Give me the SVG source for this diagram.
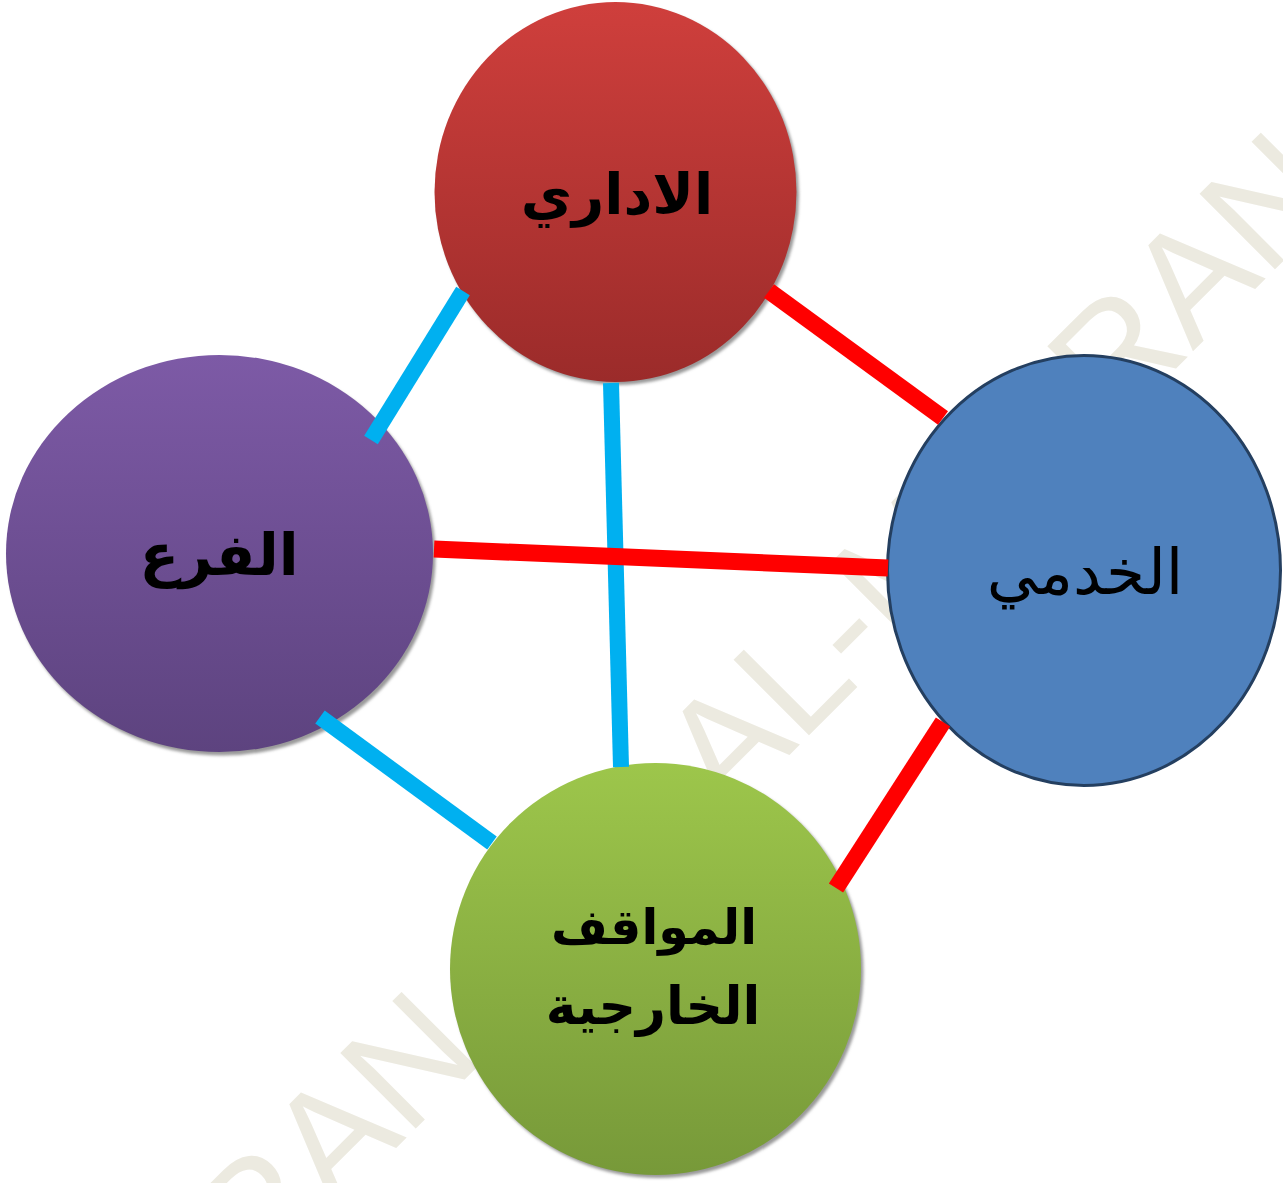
<svg xmlns="http://www.w3.org/2000/svg" width="1283" height="1183" viewBox="0 0 1283 1183">
  <defs>
    <linearGradient id="gRed" x1="0" y1="0" x2="0" y2="1">
      <stop offset="0" stop-color="#CF3F3C"/>
      <stop offset="1" stop-color="#9B2B2A"/>
    </linearGradient>
    <linearGradient id="gPurple" x1="0" y1="0" x2="0" y2="1">
      <stop offset="0" stop-color="#7D5AA6"/>
      <stop offset="1" stop-color="#5D437F"/>
    </linearGradient>
    <linearGradient id="gGreen" x1="0" y1="0" x2="0" y2="1">
      <stop offset="0" stop-color="#9DC64B"/>
      <stop offset="1" stop-color="#779939"/>
    </linearGradient>
    <filter id="soft" x="-10%" y="-10%" width="120%" height="120%">
      <feGaussianBlur stdDeviation="1.5"/>
    </filter>
  </defs>
  <style>
    .wm { font-family: "Liberation Sans", Arial, sans-serif; font-size: 155px; fill: #ECEAE0; }
    .shadow { fill: #9A9A9A; filter: url(#soft); }
    .lbl { font-family: "DejaVu Sans", sans-serif; fill: #000; text-anchor: middle; direction: rtl; }
    .b { font-weight: bold; }
    .cyan { stroke: #00B0F0; stroke-width: 16; stroke-linecap: butt; fill: none; }
    .red { stroke: #FF0000; stroke-width: 17; stroke-linecap: butt; fill: none; }
  </style>

  <rect width="1283" height="1183" fill="#FFFFFF"/>

  <!-- background watermark, running diagonally behind the nodes -->
  <g id="watermark" transform="rotate(-45)">
    <text class="wm" y="1092"><tspan x="-732">RAN</tspan><tspan x="-64">AL-M</tspan><tspan x="483">RAN</tspan></text>
  </g>

  <!-- nodes -->
  <g id="node-idari">
    <ellipse class="shadow" cx="618" cy="195" rx="181" ry="190"/>
    <ellipse cx="615.5" cy="192" rx="181" ry="190" fill="url(#gRed)"/>
    <text class="lbl b" x="617" y="214" font-size="56">الاداري</text>
  </g>

  <g id="node-far">
    <ellipse class="shadow" cx="222" cy="557" rx="213.5" ry="198.5"/>
    <ellipse cx="219.5" cy="553.5" rx="213.5" ry="198.5" fill="url(#gPurple)"/>
    <text class="lbl b" x="219" y="575" font-size="58">الفرع</text>
  </g>

  <g id="node-khidmi">
    <ellipse cx="1084" cy="570.5" rx="196.5" ry="215" fill="#4F81BD" stroke="#243F60" stroke-width="3"/>
    <text class="lbl" x="1085" y="594" font-size="63">الخدمي</text>
  </g>

  <g id="node-mawaqif">
    <ellipse class="shadow" cx="658" cy="972" rx="205.5" ry="206"/>
    <ellipse cx="655.5" cy="969" rx="205.5" ry="206" fill="url(#gGreen)"/>
    <text class="lbl b" x="654" y="944" font-size="49">المواقف</text>
    <text class="lbl b" x="653" y="1024" font-size="52">الخارجية</text>
  </g>

  <!-- connectors -->
  <g id="connectors">
    <line class="cyan" x1="463" y1="291" x2="371" y2="440"/>
    <line class="cyan" x1="611" y1="383" x2="621" y2="767"/>
    <line class="cyan" x1="320" y1="717" x2="492" y2="843"/>
    <line class="red" x1="769" y1="291" x2="943" y2="418"/>
    <line class="red" x1="434" y1="549" x2="888" y2="568"/>
    <line class="red" x1="943" y1="722" x2="836" y2="888"/>
  </g>
</svg>
